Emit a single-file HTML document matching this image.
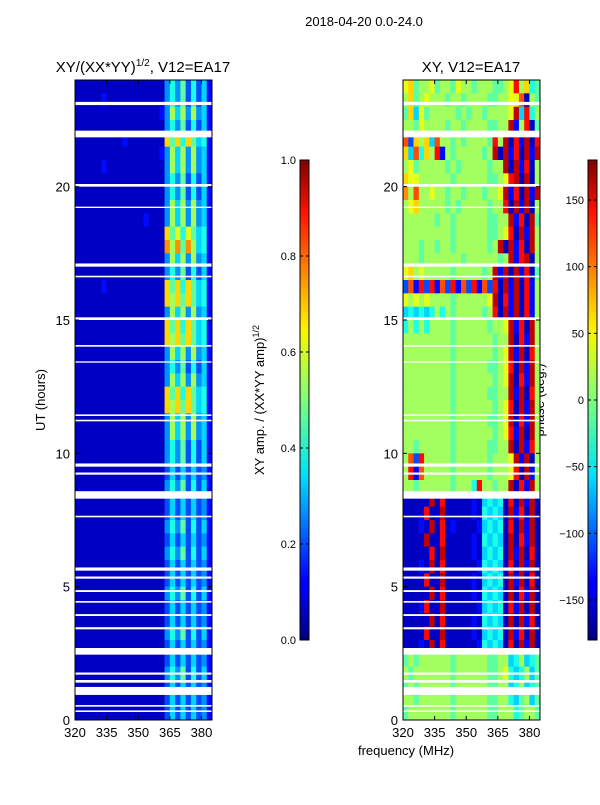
<!DOCTYPE html>
<html><head><meta charset="utf-8"><style>
body{margin:0;background:#fff;font-family:"Liberation Sans",sans-serif;}
svg text{font-family:"Liberation Sans",sans-serif;fill:#000;}
</style></head><body>
<svg id="fig" width="600" height="800" xmlns="http://www.w3.org/2000/svg">
<defs>
<linearGradient id="jet" x1="0" y1="1" x2="0" y2="0">
<stop offset="0" stop-color="#00007f"/><stop offset="0.11" stop-color="#0000ff"/>
<stop offset="0.125" stop-color="#0000ff"/><stop offset="0.34" stop-color="#00dcff"/>
<stop offset="0.35" stop-color="#00e5f6"/><stop offset="0.5" stop-color="#7dff7a"/>
<stop offset="0.64" stop-color="#f6f800"/><stop offset="0.66" stop-color="#ffea00"/>
<stop offset="0.89" stop-color="#ff1300"/><stop offset="1" stop-color="#7f0000"/>
</linearGradient>
</defs>
<text x="364" y="26" font-size="13" text-anchor="middle">2018-04-20 0.0-24.0</text>
<text x="143" y="72" font-size="15" text-anchor="middle">XY/(XX*YY)<tspan font-size="10" dy="-6">1/2</tspan><tspan dy="6">, V12=EA17</tspan></text>
<text x="471" y="72" font-size="15" text-anchor="middle">XY, V12=EA17</text>
<text transform="translate(45,400) rotate(-90)" font-size="13" text-anchor="middle">UT (hours)</text>
<text transform="translate(264,400) rotate(-90)" font-size="13" text-anchor="middle">XY amp. / (XX*YY amp)<tspan font-size="9" dy="-5">1/2</tspan></text>
<text transform="translate(544,400) rotate(-90)" font-size="13" text-anchor="middle">phase (deg.)</text>
<text x="406" y="755" font-size="13" text-anchor="middle">frequency (MHz)</text>
<g id="left"></g>
<g id="right"></g>
<g id="cbars"></g>
</svg>
<script>
const freqMin = 320, freqMax = 385, timeMin = 0, timeMax = 24;
const freqTicks = [320, 335, 350, 365, 380];
const timeTicks = [0, 5, 10, 15, 20];
const ampTicks = [0.0, 0.2, 0.4, 0.6, 0.8, 1.0];
const phaseTicks = [-150, -100, -50, 0, 50, 100, 150];
// white gaps in data: [start hour, duration]
const gapStarts = [0.3, 0.5, 0.94, 1.4, 1.7, 2.45, 3.4, 3.9, 4.4, 4.8, 5.3, 5.6, 7.6, 8.3, 9.2, 9.5, 11.2, 11.4, 13.4, 14.0, 15.0, 16.6, 17.0, 19.2, 20.0, 21.85, 23.06];
const gapDurs = [0.06, 0.06, 0.3, 0.1, 0.08, 0.25, 0.08, 0.07, 0.06, 0.07, 0.08, 0.12, 0.06, 0.28, 0.08, 0.12, 0.06, 0.06, 0.05, 0.06, 0.1, 0.06, 0.12, 0.05, 0.1, 0.25, 0.12];
// amplitude rows (top = 24h), 26 freq bins of 2.5 MHz, hex digit = value*15
const ampRows = [
"11111111111111111464736352","11111211111111111464736352","11111111111111112485848452","11111111111111111464736352",
"11111111121111111a7a6a7562","11111111111111112485848452","11111211111111111485848452","11111111111111111464736352",
"11111111111111111464736352","11111111111111111485848452","11111111111112111485848452","11111111111111111a79697562",
"11111111111111111b8b7b8562","11111111111111111485848452","11111111111111111464736352","11111211111111111a7a6a7562",
"11111111111111111a8a7a7562","11111111111111111485848452","11111111111111111a7a6a7562","11111111111111111a8a7a7562",
"11111111111111111485848452","11111111111111111464736352","11111111111111111485848452","11111111111111111a7a6a7562",
"11111111111111111a8a7a7562","11111111111111111485848452","11111111111111111485848452","11111111111111111464736352",
"11111111111111111464736352","11111111111111111353535342","11111111111111111464736352","11111111111111111353535342",
"11111111111111111353535342","11111111111111111464736352","11111111111111111353535342","11111111111111111464736352",
"11111111111111111353535342","11111111111111111353535342","11111111111111111464736352","11111111111111111353535342",
"11111111111111111353535342","11111111111111111464736352","11111111111111111353535342","11111111111111111353535342",
"11111111111111111464736352","11111111111111111353535342","11111111111111111353535342","11111111111111111353535342"];
// phase rows (top = 24h), hex digit: 0 -> -180, f -> +180
const phaseRows = [
"9a7889788798878887789d8a67","8a78988878878888778899c187","7a5978888878788788889e5d68","88798888788788887788e28d17",
"c3a8a5c8878788887d8e1d2e1d","a5c6a8d2878888878e1e2d1e2e","8978888878788888788e1e2d18","a9988888878888887789de1e18",
"b8c8898878878887889e2d1e2e","89a8888878788888788d1e2e18","88888878878888887788e2d1e7","88888888878888887789d1e2e8",
"888788788788888878e1e2d1e8","88878888888788888878e2de18","9a898888878888878e2e1e2d17","3c2d3d2c3d2c3d2c3d1e2e1d28",
"98989888878888889e1d2e1d28","56565686878888878d1e2e1d28","68686888878888887889e2d1e8","88888888878888888788e1d2e8",
"88888888878888888789e2e1d8","88888888878888887789d1e2e8","88888888878888888789e1d2e8","88888888878888887788e2e1d8",
"88888888878888888789d1e2e8","88888888878888887789e1d2e8","88888888878888888789d2e1e8","88788888878888887788e1e2d8",
"8c3d88888788888878889e2e18","8d2c88888788888878889d1e28","88788888878886d88788e1d2e8","11111e1d111112156561d1e2e1",
"1111d11e111112165651e2d1e1","11121e1d121111256561d1e2e1","1111e11d111112165651e1d2e1","11111d1e111112156561e2e1d1",
"11121e1d111111265651d1e2e1","1111d11e111112156561e2e1d1","11111e1d111112165651e1d2e1","1112d11e111111256561d2e1e1",
"11111e1d111112165651e1e2d1","1111d11e111112156561e2d1e1","11121e1d111111265651d1e2e1","78788888878888887788568567",
"87888888878888887789656857","78788888878888887788568567","88788888878888887788657857","78888888878888887788867887"];

function jet(v){
  v=Math.max(0,Math.min(1,v));
  const r=Math.max(0,Math.min(1,1.5-Math.abs(4*v-3)));
  const g=Math.max(0,Math.min(1,1.5-Math.abs(4*v-2)));
  const b=Math.max(0,Math.min(1,1.5-Math.abs(4*v-1)));
  return `rgb(${Math.round(r*255)},${Math.round(g*255)},${Math.round(b*255)})`;
}
const NS="http://www.w3.org/2000/svg";
function mk(tag,attrs,parent){const e=document.createElementNS(NS,tag);for(const k in attrs)e.setAttribute(k,attrs[k]);parent.appendChild(e);return e;}

function panel(gid,x0,rows){
  const W=137,H=640,y0=80;
  const xs=f=>x0+(f-freqMin)/(freqMax-freqMin)*W;
  const ys=t=>y0+H-(t-timeMin)/(timeMax-timeMin)*H;
  const g=document.getElementById(gid);
  const nr=rows.length, dt=(timeMax-timeMin)/nr;
  rows.forEach((row,i)=>{
    const t1=timeMax-i*dt, t0=t1-dt;
    const nc=row.length, df=(freqMax-freqMin)/nc;
    for(let j=0;j<nc;j++){
      const v=parseInt(row[j],16)/15;
      const f0=freqMin+j*df;
      const r=mk('rect',{x:xs(f0),y:ys(t1),width:xs(f0+df)-xs(f0)+0.4,height:ys(t0)-ys(t1)+0.4,fill:jet(v)},g);
      
      
    }
  });
  gapStarts.forEach((s,k)=>{
    const r=mk('rect',{x:x0,y:ys(s+gapDurs[k]),width:W,height:ys(s)-ys(s+gapDurs[k]),fill:'#fff'},g);
    
    
  });
  const fr=mk('rect',{x:x0,y:y0,width:W,height:H,fill:'none',stroke:'#000','stroke-width':1},g);
  
  
  freqTicks.forEach(f=>{
    const x=xs(f);
    mk('line',{x1:x,x2:x,y1:y0+H,y2:y0+H-4,stroke:'#000'},g);
    mk('line',{x1:x,x2:x,y1:y0,y2:y0+4,stroke:'#000'},g);
    const t=mk('text',{x:x,y:y0+H+17,'font-size':13,'text-anchor':'middle'},g);
    t.textContent=f;
    
    
  });
  timeTicks.forEach(tv=>{
    const y=ys(tv);
    mk('line',{x1:x0,x2:x0+4,y1:y,y2:y,stroke:'#000'},g);
    mk('line',{x1:x0+W,x2:x0+W-4,y1:y,y2:y,stroke:'#000'},g);
    const t=mk('text',{x:x0-5,y:y+5,'font-size':13,'text-anchor':'end'},g);
    t.textContent=tv;
    
    
  });
}
panel('left',75,ampRows);
panel('right',403,phaseRows);

function cbar(x,vmin,vmax,ticks,fmt){
  const g=document.getElementById('cbars');
  const y0=160,H=480,W=9;
  const r=mk('rect',{x:x,y:y0,width:W,height:H,fill:'url(#jet)',stroke:'#000','stroke-width':1},g);
  
  
  ticks.forEach(v=>{
    const y=y0+H-(v-vmin)/(vmax-vmin)*H;
    mk('line',{x1:x,x2:x+3,y1:y,y2:y,stroke:'#000'},g);
    mk('line',{x1:x+W,x2:x+W-3,y1:y,y2:y,stroke:'#000'},g);
    const t=mk('text',{x:x-4,y:y+4,'font-size':11,'text-anchor':'end'},g);
    t.textContent=fmt(v);
    
    
  });
}
cbar(300,0,1,ampTicks,v=>v.toFixed(1));
cbar(588,-180,180,phaseTicks,v=>v<0?'\u2212'+(-v):String(v));
</script>
</body></html>
